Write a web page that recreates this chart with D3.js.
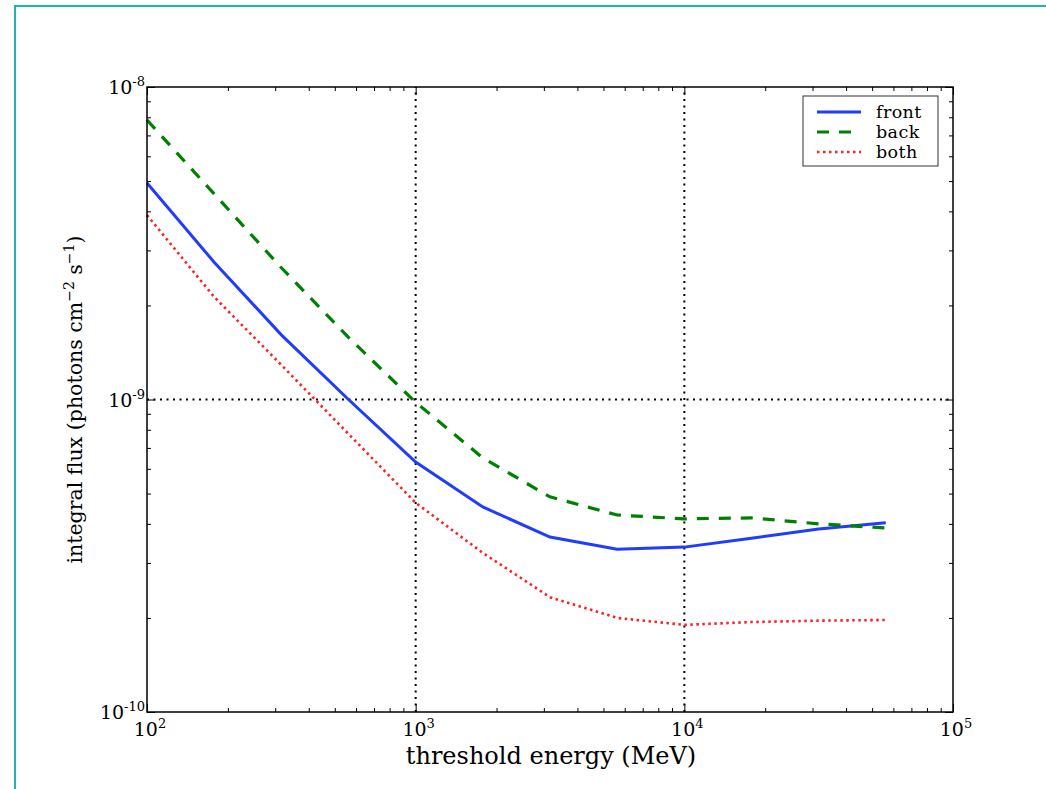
<!DOCTYPE html>
<html>
<head>
<meta charset="utf-8">
<script src="https://cdn.jsdelivr.net/npm/d3@7"></script>
<style>
  body { margin: 0; background: #fff; }
  svg { display: block; }
  text { font-family: "DejaVu Serif", serif; fill: #000; }
</style>
</head>
<body>
<svg id="chart" width="1046" height="789"></svg>
<script>
// threshold energies (MeV), quarter-decade steps
const energies = [100, 177.8, 316.2, 562.3, 1000, 1778, 3162, 5623, 10000, 17783, 31623, 56234];

// integral flux (photons cm^-2 s^-1)
const front = [4.93e-9, 2.75e-9, 1.61e-9, 1.0e-9, 6.31e-10, 4.53e-10, 3.63e-10, 3.32e-10, 3.37e-10, 3.60e-10, 3.85e-10, 4.03e-10];
const back  = [7.84e-9, 4.55e-9, 2.64e-9, 1.58e-9, 9.8e-10, 6.5e-10, 4.88e-10, 4.27e-10, 4.15e-10, 4.18e-10, 4.0e-10, 3.88e-10];
const both  = [3.89e-9, 2.13e-9, 1.29e-9, 7.76e-10, 4.67e-10, 3.23e-10, 2.33e-10, 2.0e-10, 1.90e-10, 1.94e-10, 1.96e-10, 1.97e-10];

const seriesNames = ["front", "back", "both"];
const xMajor = [1e2, 1e3, 1e4, 1e5];
const xExp = ["2", "3", "4", "5"];
const yMajor = [1e-10, 1e-9, 1e-8];
const yExp = ["-10", "-9", "-8"];

const svg = d3.select("#chart");
const margin = { top: 87, right: 93, bottom: 77, left: 147 };
const width = 1046, height = 789;

// teal frame (only top and left edges show)
svg.append("rect")
    .attr("x", 15).attr("y", 6)
    .attr("width", 1100).attr("height", 900)
    .attr("fill", "none")
    .attr("stroke", "#1fb3b3")
    .attr("stroke-width", 2);

const x = d3.scaleLog().domain([1e2, 1e5]).range([margin.left, width - margin.right]);
const y = d3.scaleLog().domain([1e-10, 1e-8]).range([height - margin.bottom, margin.top]);

// minor tick positions
const xMinor = [];
[1e2, 1e3, 1e4].forEach(d => { for (let k = 2; k <= 9; k++) xMinor.push(d * k); });
const yMinor = [];
[1e-10, 1e-9].forEach(d => { for (let k = 2; k <= 9; k++) yMinor.push(d * k); });

// grid at major decades (dotted)
const grid = svg.append("g").attr("stroke", "#000").attr("stroke-width", 2).attr("stroke-dasharray", "2,4.5");
grid.selectAll("line.gx").data(xMajor.slice(1, -1)).join("line")
    .attr("x1", d => x(d)).attr("x2", d => x(d))
    .attr("y1", y(1e-10)).attr("y2", y(1e-8));
grid.selectAll("line.gy").data(yMajor.slice(1, -1)).join("line")
    .attr("x1", x(1e2)).attr("x2", x(1e5))
    .attr("y1", d => y(d)).attr("y2", d => y(d));

// axes with inward ticks
function styleAxis(g) {
    g.select(".domain").remove();
    g.selectAll("line").attr("stroke", "#000").attr("stroke-width", 1);
    g.selectAll("text").remove();
}
const pBottom = y(1e-10), pTop = y(1e-8), pLeft = x(1e2), pRight = x(1e5);

svg.append("g").attr("transform", `translate(0,${pBottom})`)
    .call(d3.axisBottom(x).tickValues(xMajor).tickSize(-8)).call(styleAxis);
svg.append("g").attr("transform", `translate(0,${pBottom})`)
    .call(d3.axisBottom(x).tickValues(xMinor).tickSize(-4)).call(styleAxis);
svg.append("g").attr("transform", `translate(0,${pTop})`)
    .call(d3.axisTop(x).tickValues(xMajor).tickSize(-8)).call(styleAxis);
svg.append("g").attr("transform", `translate(0,${pTop})`)
    .call(d3.axisTop(x).tickValues(xMinor).tickSize(-4)).call(styleAxis);
svg.append("g").attr("transform", `translate(${pLeft},0)`)
    .call(d3.axisLeft(y).tickValues(yMajor).tickSize(-8)).call(styleAxis);
svg.append("g").attr("transform", `translate(${pLeft},0)`)
    .call(d3.axisLeft(y).tickValues(yMinor).tickSize(-4)).call(styleAxis);
svg.append("g").attr("transform", `translate(${pRight},0)`)
    .call(d3.axisRight(y).tickValues(yMajor).tickSize(-8)).call(styleAxis);
svg.append("g").attr("transform", `translate(${pRight},0)`)
    .call(d3.axisRight(y).tickValues(yMinor).tickSize(-4)).call(styleAxis);

// tick labels with superscripts
xMajor.forEach((d, i) => {
    const t = svg.append("text")
        .attr("x", x(d) + 3).attr("y", pBottom + 24)
        .attr("text-anchor", "middle")
        .style("font-size", "19px");
    t.append("tspan").text("10");
    t.append("tspan").attr("dy", -8).style("font-size", "13px").text(xExp[i]);
});
yMajor.forEach((d, i) => {
    const t = svg.append("text")
        .attr("x", pLeft - 2).attr("y", y(d) + 7)
        .attr("text-anchor", "end")
        .style("font-size", "19px");
    t.append("tspan").text("10");
    t.append("tspan").attr("dy", -8).style("font-size", "13px").text(yExp[i]);
});

// series lines
const line = d3.line().x(d => x(d[0])).y(d => y(d[1]));
const styles = {
    front: { color: "#1f3cff", dash: null, width: 3 },
    back:  { color: "#008000", dash: "12,10", width: 3.2 },
    both:  { color: "#ff2020", dash: "2.5,3.5", width: 2.6 }
};
const seriesData = { front, back, both };

const plot = svg.append("g");
seriesNames.forEach(name => {
    const s = styles[name];
    plot.append("path")
        .datum(d3.zip(energies, seriesData[name]))
        .attr("d", line)
        .attr("fill", "none")
        .attr("stroke", s.color)
        .attr("stroke-width", s.width)
        .attr("stroke-dasharray", s.dash);
});

// frame
svg.append("rect")
    .attr("x", pLeft).attr("y", pTop)
    .attr("width", pRight - pLeft).attr("height", pBottom - pTop)
    .attr("fill", "none").attr("stroke", "#000").attr("stroke-width", 1.5);

// legend
const legend = svg.append("g");
legend.append("rect")
    .attr("x", 803).attr("y", 96).attr("width", 135).attr("height", 70)
    .attr("fill", "#fff").attr("stroke", "#333").attr("stroke-width", 1);
seriesNames.forEach((name, i) => {
    const s = styles[name];
    const yy = 112 + i * 20;
    legend.append("line")
        .attr("x1", 817).attr("x2", 861).attr("y1", yy).attr("y2", yy)
        .attr("stroke", s.color).attr("stroke-width", s.width)
        .attr("stroke-dasharray", s.dash);
    legend.append("text")
        .attr("x", 876).attr("y", yy + 6)
        .style("font-size", "17.5px")
        .style("letter-spacing", "0.4px")
        .text(name);
});

// axis titles
svg.append("text")
    .attr("x", (pLeft + pRight) / 2 + 1).attr("y", 764)
    .attr("text-anchor", "middle")
    .style("font-size", "24px")
    .text("threshold energy (MeV)");

const yt = svg.append("text")
    .attr("transform", `translate(82,${(pTop + pBottom) / 2}) rotate(-90)`)
    .attr("text-anchor", "middle")
    .style("font-size", "20.5px");
yt.append("tspan").text("integral flux (photons cm");
yt.append("tspan").attr("dy", -8).style("font-size", "14px").text("\u22122");
yt.append("tspan").attr("dy", 8).text(" s");
yt.append("tspan").attr("dy", -8).style("font-size", "14px").text("\u22121");
yt.append("tspan").attr("dy", 8).text(")");
</script>
</body>
</html>
